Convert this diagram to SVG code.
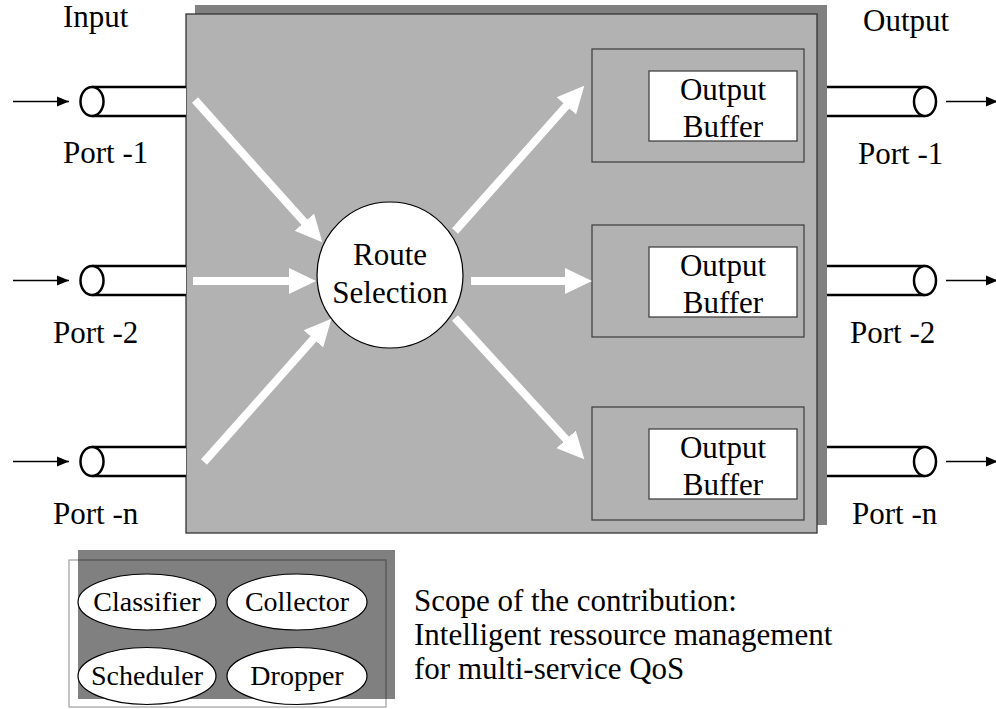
<svg xmlns="http://www.w3.org/2000/svg" width="996" height="709" viewBox="0 0 996 709" font-family="'Liberation Serif', 'Times New Roman', Tinos, 'DejaVu Serif', serif">
<defs>
<style>
text{font-family:'Liberation Serif','Times New Roman',Tinos,'DejaVu Serif',serif;font-size:31px;fill:#000}
.c{text-anchor:middle}
.small{font-size:28px}
.cyl{stroke:#000;stroke-width:2.5;fill:none}
.cylend{stroke:#000;stroke-width:2.5;fill:#fff}
.wa{stroke:#fff;stroke-width:8;fill:none}
.ba{stroke:#000;stroke-width:1.3;fill:none}
.ob{fill:none;stroke:#444;stroke-width:1.3}
.ib{fill:#fff;stroke:#444;stroke-width:1.3}
.el{fill:#fff;stroke:#000;stroke-width:1.2}
</style>
<marker id="wh" markerUnits="userSpaceOnUse" markerWidth="30" markerHeight="30" viewBox="0 -15 30 30" refX="1" refY="0" orient="auto">
<path d="M0,-13 L27,0 L0,13 Z" fill="#fff"/>
</marker>
<marker id="bh" markerUnits="userSpaceOnUse" markerWidth="14" markerHeight="12" viewBox="0 -6 14 12" refX="12" refY="0" orient="auto">
<path d="M0,-5 L12,0 L0,5 Z" fill="#000"/>
</marker>
</defs>
<rect width="996" height="709" fill="#fff"/>

<g id="switch">
<rect x="195" y="5" width="632" height="520" fill="#808080"/>
<rect x="186" y="14" width="631" height="519" fill="#b2b2b2" stroke="#333" stroke-width="1.3"/>
</g>

<g id="input-port-1">
<rect x="92" y="87" width="94" height="29" fill="#fff"/>
<line class="cyl" x1="92" y1="87" x2="186" y2="87"/>
<line class="cyl" x1="92" y1="116" x2="186" y2="116"/>
<ellipse class="cylend" cx="92" cy="101.5" rx="11.5" ry="14.5"/>
<text x="63" y="163">Port -1</text>
</g>
<g id="input-port-2">
<rect x="92" y="266" width="94" height="29" fill="#fff"/>
<line class="cyl" x1="92" y1="266" x2="186" y2="266"/>
<line class="cyl" x1="92" y1="295" x2="186" y2="295"/>
<ellipse class="cylend" cx="92" cy="280.5" rx="11.5" ry="14.5"/>
<text x="53" y="343">Port -2</text>
</g>
<g id="input-port-n">
<rect x="92" y="447" width="94" height="29" fill="#fff"/>
<line class="cyl" x1="92" y1="447" x2="186" y2="447"/>
<line class="cyl" x1="92" y1="476" x2="186" y2="476"/>
<ellipse class="cylend" cx="92" cy="461.5" rx="11.5" ry="14.5"/>
<text x="53" y="524">Port -n</text>
</g>
<text x="63" y="27">Input</text>

<g id="output-port-1">
<rect x="827" y="87" width="98" height="29" fill="#fff"/>
<line class="cyl" x1="827" y1="87" x2="925" y2="87"/>
<line class="cyl" x1="827" y1="116" x2="925" y2="116"/>
<ellipse class="cylend" cx="925" cy="101.5" rx="11" ry="14.5"/>
<text x="858" y="164">Port -1</text>
</g>
<g id="output-port-2">
<rect x="827" y="266" width="98" height="29" fill="#fff"/>
<line class="cyl" x1="827" y1="266" x2="925" y2="266"/>
<line class="cyl" x1="827" y1="295" x2="925" y2="295"/>
<ellipse class="cylend" cx="925" cy="280.5" rx="11" ry="14.5"/>
<text x="850" y="343">Port -2</text>
</g>
<g id="output-port-n">
<rect x="827" y="447" width="98" height="29" fill="#fff"/>
<line class="cyl" x1="827" y1="447" x2="925" y2="447"/>
<line class="cyl" x1="827" y1="476" x2="925" y2="476"/>
<ellipse class="cylend" cx="925" cy="461.5" rx="11" ry="14.5"/>
<text x="852" y="524">Port -n</text>
</g>
<text x="863" y="31">Output</text>

<g id="route-selection">
<circle cx="390" cy="275" r="73" fill="#fff" stroke="#000" stroke-width="1.2"/>
<text class="c" x="390" y="265">Route</text>
<text class="c" x="390" y="303">Selection</text>
</g>

<g id="output-buffer-1">
<rect class="ob" x="592" y="49" width="212" height="113"/>
<rect class="ib" x="649" y="71" width="148" height="70"/>
<text class="c" x="723" y="100">Output</text>
<text class="c" x="723" y="137">Buffer</text>
</g>
<g id="output-buffer-2">
<rect class="ob" x="592" y="225" width="212" height="112"/>
<rect class="ib" x="649" y="247" width="148" height="70"/>
<text class="c" x="723" y="276">Output</text>
<text class="c" x="723" y="313">Buffer</text>
</g>
<g id="output-buffer-3">
<rect class="ob" x="592" y="407" width="212" height="113"/>
<rect class="ib" x="649" y="429" width="148" height="70"/>
<text class="c" x="723" y="458">Output</text>
<text class="c" x="723" y="495">Buffer</text>
</g>

<g id="connectors">
<line class="ba" x1="13" y1="101.5" x2="69" y2="101.5" marker-end="url(#bh)"/>
<line class="ba" x1="13" y1="280.5" x2="69" y2="280.5" marker-end="url(#bh)"/>
<line class="ba" x1="13" y1="461.5" x2="69" y2="461.5" marker-end="url(#bh)"/>
<line class="ba" x1="946" y1="101.5" x2="998" y2="101.5" marker-end="url(#bh)"/>
<line class="ba" x1="946" y1="280.5" x2="998" y2="280.5" marker-end="url(#bh)"/>
<line class="ba" x1="946" y1="461.5" x2="998" y2="461.5" marker-end="url(#bh)"/>
<line class="wa" x1="195" y1="100" x2="305" y2="222.9" marker-end="url(#wh)"/>
<line class="wa" x1="193" y1="281" x2="290" y2="281" marker-end="url(#wh)"/>
<line class="wa" x1="204" y1="462" x2="314.1" y2="338.2" marker-end="url(#wh)"/>
<line class="wa" x1="455" y1="231" x2="567" y2="105.2" marker-end="url(#wh)"/>
<line class="wa" x1="471" y1="281" x2="566" y2="281" marker-end="url(#wh)"/>
<line class="wa" x1="455" y1="318" x2="566.8" y2="440.1" marker-end="url(#wh)"/>
</g>

<g id="scope-box">
<rect x="78" y="550" width="317" height="149" fill="#808080"/>
<rect x="69" y="560" width="317" height="147" fill="none" stroke="#000" stroke-opacity="0.35" stroke-width="1.3"/>
</g>
<g id="classifier">
<ellipse class="el" cx="147" cy="602" rx="69" ry="28"/>
<text class="c small" x="147" y="611">Classifier</text>
</g>
<g id="collector">
<ellipse class="el" cx="297" cy="602" rx="70" ry="28"/>
<text class="c small" x="297" y="611">Collector</text>
</g>
<g id="scheduler">
<ellipse class="el" cx="147" cy="676" rx="69" ry="28.5"/>
<text class="c small" x="147" y="685">Scheduler</text>
</g>
<g id="dropper">
<ellipse class="el" cx="297" cy="676" rx="70" ry="28.5"/>
<text class="c small" x="297" y="685">Dropper</text>
</g>

<g id="scope-text">
<text x="414" y="611">Scope of the contribution:</text>
<text x="414" y="645">Intelligent ressource management</text>
<text x="414" y="679">for multi-service QoS</text>
</g>
</svg>
